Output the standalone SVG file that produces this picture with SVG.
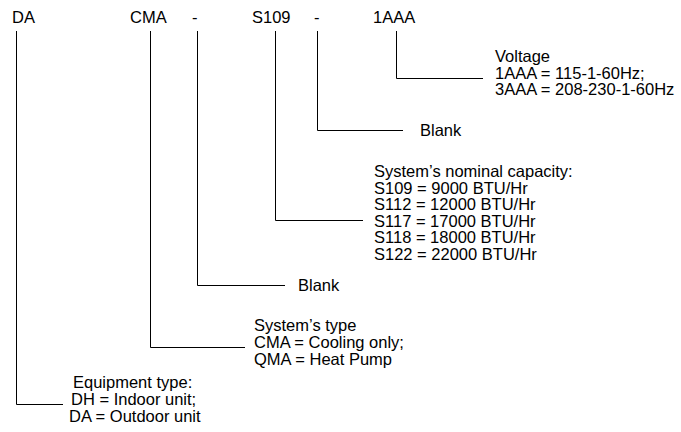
<svg xmlns="http://www.w3.org/2000/svg" width="681" height="432" viewBox="0 0 681 432">
<style>
text{font-family:"Liberation Sans",Arial,sans-serif;font-size:16.5px;fill:#000}
.c{fill:none;stroke:#000;stroke-width:1}
</style>
<rect width="681" height="432" fill="#fff"/>
<g id="code">
<text x="12" y="23">DA</text>
<text x="130" y="23">CMA</text>
<text x="192" y="23">-</text>
<text x="252" y="23">S109</text>
<text x="314" y="23">-</text>
<text x="373" y="23">1AAA</text>
</g>
<g id="connectors">
<polyline class="c" points="16.5,31 16.5,404.5 63,404.5"/>
<polyline class="c" points="150.5,31 150.5,347.5 245,347.5"/>
<polyline class="c" points="197.5,31 197.5,285.5 285,285.5"/>
<polyline class="c" points="275.5,31 275.5,220.5 363,220.5"/>
<polyline class="c" points="317.5,31 317.5,130.5 403,130.5"/>
<polyline class="c" points="396.5,31 396.5,78.5 483,78.5"/>
</g>
<g id="voltage">
<text x="495" y="62">Voltage</text>
<text x="495" y="78.5">1AAA = 115-1-60Hz;</text>
<text x="495" y="95">3AAA = 208-230-1-60Hz</text>
</g>
<g id="blank1">
<text x="420" y="136">Blank</text>
</g>
<g id="capacity">
<text x="374" y="177">System’s nominal capacity:</text>
<text x="374" y="193.5">S109 = 9000 BTU/Hr</text>
<text x="374" y="210">S112 = 12000 BTU/Hr</text>
<text x="374" y="226.5">S117 = 17000 BTU/Hr</text>
<text x="374" y="243">S118 = 18000 BTU/Hr</text>
<text x="374" y="259.5">S122 = 22000 BTU/Hr</text>
</g>
<g id="blank2">
<text x="298" y="291">Blank</text>
</g>
<g id="systype">
<text x="254" y="331">System’s type</text>
<text x="254" y="348">CMA = Cooling only;</text>
<text x="254" y="365">QMA = Heat Pump</text>
</g>
<g id="equip">
<text x="73" y="388">Equipment type:</text>
<text x="71" y="405">DH = Indoor unit;</text>
<text x="69" y="422">DA = Outdoor unit</text>
</g>
</svg>
